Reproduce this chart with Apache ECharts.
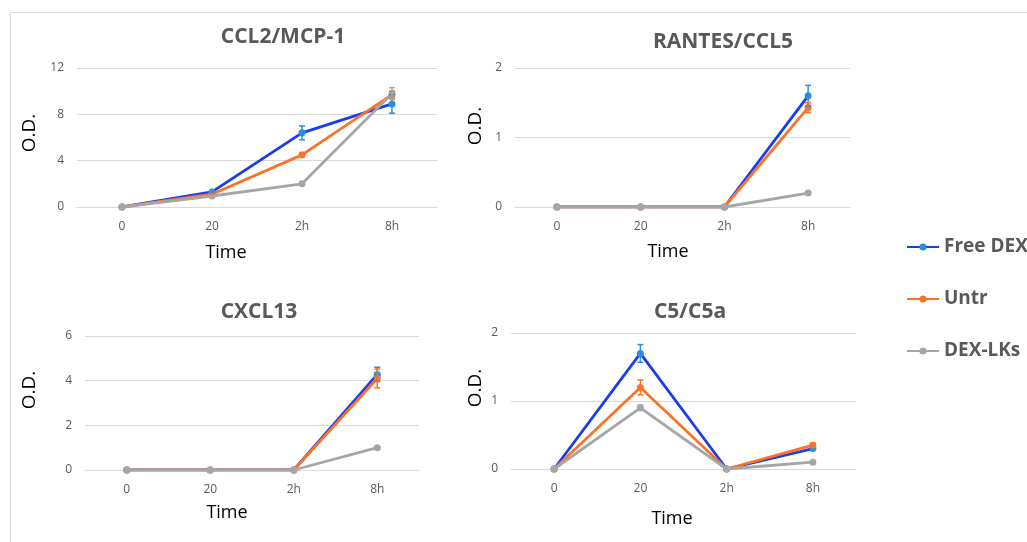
<!DOCTYPE html>
<html>
<head>
<meta charset="utf-8">
<script src="https://cdn.jsdelivr.net/npm/echarts@6/dist/echarts.min.js"></script>
<style>html,body{margin:0;padding:0;background:#fff}#c{width:1027px;height:542px}</style>
</head>
<body>
<div id="c"></div>
<script>
var categories = ['0', '20', '2h', '8h'];
var seriesNames = ['Free DEX', 'Untr', 'DEX-LKs'];
var panelTitles = ['CCL2/MCP-1', 'RANTES/CCL5', 'CXCL13', 'C5/C5a'];

var ccl2Free = [0, 1.3, 6.4, 8.9];
var ccl2FreeErr = [0, 0.1, 0.6, 0.8];
var ccl2Untr = [0, 1.1, 4.5, 9.7];
var ccl2UntrErr = [0, 0.05, 0.2, 0.3];
var ccl2Lks = [0, 0.95, 2.0, 9.8];
var ccl2LksErr = [0, 0.05, 0.1, 0.5];

var rantesFree = [0, 0, 0, 1.6];
var rantesFreeErr = [0, 0, 0, 0.15];
var rantesUntr = [0, 0, 0, 1.43];
var rantesUntrErr = [0, 0, 0, 0.07];
var rantesLks = [0, 0, 0, 0.2];
var rantesLksErr = [0, 0, 0, 0.02];

var cxclFree = [0, 0, 0, 4.28];
var cxclFreeErr = [0, 0, 0, 0.32];
var cxclUntr = [0, 0, 0, 4.1];
var cxclUntrErr = [0, 0, 0, 0.42];
var cxclLks = [0, 0, 0, 1.0];
var cxclLksErr = [0, 0, 0, 0.05];

var c5Free = [0, 1.7, 0, 0.3];
var c5FreeErr = [0, 0.13, 0, 0.02];
var c5Untr = [0, 1.2, 0, 0.35];
var c5UntrErr = [0, 0.11, 0, 0.03];
var c5Lks = [0, 0.9, 0, 0.1];
var c5LksErr = [0, 0.04, 0, 0.01];

var yMax = [12, 2, 6, 2];
var yInterval = [4, 1, 2, 1];

var panels = [
  [ccl2Free, ccl2Untr, ccl2Lks, ccl2FreeErr, ccl2UntrErr, ccl2LksErr],
  [rantesFree, rantesUntr, rantesLks, rantesFreeErr, rantesUntrErr, rantesLksErr],
  [cxclFree, cxclUntr, cxclLks, cxclFreeErr, cxclUntrErr, cxclLksErr],
  [c5Free, c5Untr, c5Lks, c5FreeErr, c5UntrErr, c5LksErr]
];

var lineColors = ['#1a3cf0', '#fb7328', '#a6a6a6'];
var markColors = ['#2b8fdc', '#fb7328', '#a6a6a6'];

var grids = [
  {left: 77, top: 68, width: 360, height: 139},
  {left: 515, top: 68, width: 335, height: 139},
  {left: 85, top: 336, width: 334, height: 134},
  {left: 511, top: 333, width: 345, height: 136}
];
var titlePos = [[283, 37], [723, 42], [259, 312], [690, 312]];
var timePos = [[226, 253], [668, 252], [227, 513], [672, 519]];
var odPos = [[30, 133], [476, 126], [30, 390], [476, 388]];

var xAxes = [], yAxes = [], series = [], graphics = [];
grids.forEach(function (g, i) {
  xAxes.push({
    type: 'category', gridIndex: i, data: categories, boundaryGap: true,
    axisLine: {show: true, lineStyle: {color: '#d9d9d9', width: 1}},
    axisTick: {show: false},
    axisLabel: {color: '#595959', fontSize: 12, margin: 14, fontFamily: 'Open Sans'}
  });
  yAxes.push({
    type: 'value', gridIndex: i, min: 0, max: yMax[i], interval: yInterval[i],
    axisLine: {show: false}, axisTick: {show: false},
    splitLine: {lineStyle: {color: '#d9d9d9', width: 1}},
    axisLabel: {color: '#595959', fontSize: 12, margin: 13, fontFamily: 'Open Sans'}
  });
  var p = panels[i];
  for (var s = 0; s < 3; s++) {
    series.push({
      type: 'line', name: seriesNames[s], xAxisIndex: i, yAxisIndex: i,
      data: p[s], symbol: 'circle', symbolSize: 7, z: 2 + s,
      lineStyle: {color: lineColors[s], width: 2.8},
      itemStyle: {color: markColors[s]},
      emphasis: {disabled: true}, animation: false
    });
  }
  for (var s2 = 0; s2 < 3; s2++) {
    (function (sIdx) {
      var vals = p[sIdx], errs = p[sIdx + 3];
      var d = vals.map(function (v, k) { return [k, v, errs[k]]; }).filter(function (r) { return r[2] > 0; });
      series.push({
        type: 'custom', name: seriesNames[sIdx] + ' error', xAxisIndex: i, yAxisIndex: i,
        data: d, z: 10, animation: false, silent: true,
        renderItem: function (params, api) {
          var x = api.value(0), v = api.value(1), e = api.value(2);
          var top = api.coord([x, v + e]);
          var bot = api.coord([x, v - e]);
          var c = markColors[sIdx];
          var st = {stroke: c, lineWidth: 1.5};
          return {type: 'group', children: [
            {type: 'line', shape: {x1: top[0], y1: top[1], x2: bot[0], y2: bot[1]}, style: st},
            {type: 'line', shape: {x1: top[0] - 3, y1: top[1], x2: top[0] + 3, y2: top[1]}, style: st},
            {type: 'line', shape: {x1: bot[0] - 3, y1: bot[1], x2: bot[0] + 3, y2: bot[1]}, style: st}
          ]};
        }
      });
    })(s2);
  }
  graphics.push({type: 'text', x: titlePos[i][0], y: titlePos[i][1],
    style: {text: panelTitles[i], fill: '#595959', font: 'bold 21px "Open Sans"', textAlign: 'center', textVerticalAlign: 'middle'}});
  graphics.push({type: 'text', x: timePos[i][0], y: timePos[i][1],
    style: {text: 'Time', fill: '#000', font: '18px "Open Sans"', textAlign: 'center', textVerticalAlign: 'middle'}});
  graphics.push({type: 'text', x: odPos[i][0], y: odPos[i][1], rotation: Math.PI / 2,
    style: {text: 'O.D.', fill: '#000', font: '19px "Open Sans"', textAlign: 'center', textVerticalAlign: 'middle'}});
});

graphics.push({type: 'polyline', shape: {points: [[10.5, 545], [10.5, 12.5], [1030, 12.5]]},
  style: {stroke: '#d9d9d9', lineWidth: 1, fill: null}, silent: true});

var chart = echarts.init(document.getElementById('c'), null, {renderer: 'canvas'});
chart.setOption({
  animation: false,
  grid: grids,
  xAxis: xAxes,
  yAxis: yAxes,
  series: series,
  legend: {
    data: seriesNames, orient: 'vertical', left: 901, top: 231,
    itemWidth: 32, itemHeight: 9, itemGap: 30,
    textStyle: {color: '#595959', fontSize: 19, fontWeight: 'bold', fontFamily: 'Open Sans', lineHeight: 22}
  },
  graphic: graphics
});
</script>
</body>
</html>
